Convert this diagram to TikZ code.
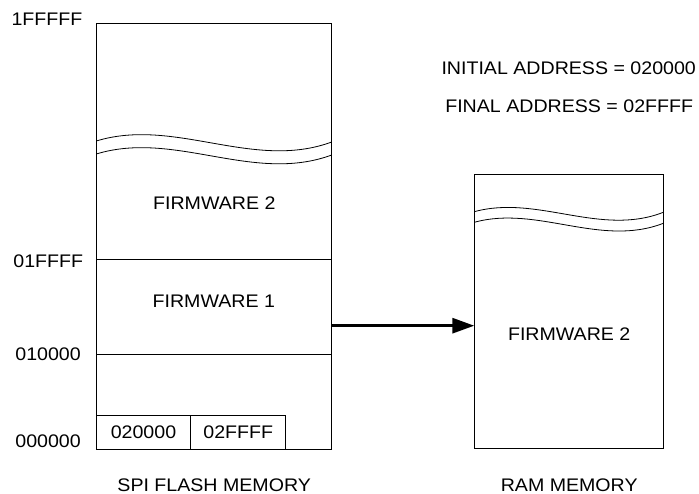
\documentclass[tikz,border=0pt]{standalone}
\usepackage{fontspec}
\setmainfont{Liberation Sans}[FakeStretch=1.077]
\usetikzlibrary{arrows.meta}
\tikzset{mem/.style={draw, line width=0.8pt, inner sep=0pt, outer sep=0pt},
  lbl/.style={inner sep=0pt, font=\fontsize{18.2}{22}\selectfont},
  cut/.style={line width=0.8pt},
  push/.style={-{Triangle[length=22pt, width=15pt]}, line width=3pt}}

\begin{document}
\begin{tikzpicture}[x=1pt, y=-1pt]
  \useasboundingbox (0,0) rectangle (699,494);
  % memories
  \node[mem, minimum width=235.4pt, minimum height=426pt] (flash) at (214,236) {};
  \node[mem, minimum width=189pt, minimum height=274pt] (ram) at (568.8,311.3) {};
  \node[mem, lbl, minimum width=94.4pt, minimum height=34pt] (c1) at (143.5,432) {020000};
  \node[mem, lbl, minimum width=95pt, minimum height=34pt] (c2) at (238.2,432) {02FFFF};
  % region borders
  \draw[cut] (96.3,259.3) -- (331.7,259.3);
  \draw[cut] (96.3,354.3) -- (331.7,354.3);
  % breaks
  \draw[cut] (96.3,141) .. controls (174.8,117) and (253.2,171) .. (331.7,142);
  \draw[cut] (96.3,154) .. controls (174.8,130) and (253.2,184) .. (331.7,155);
  \draw[cut] (474.3,211.7) .. controls (537.3,194.4) and (600.3,237) .. (663.3,212.3);
  \draw[cut] (474.3,222.3) .. controls (537.3,205) and (600.3,247.7) .. (663.3,223.3);
  % addresses
  \node[lbl, anchor=east] (a4) at (82.5,19.5) {1FFFFF};
  \node[lbl, anchor=east] (a3) at (83.3,261.7) {01FFFF};
  \node[lbl, anchor=east] (a2) at (81,354) {010000};
  \node[lbl, anchor=east] (a1) at (81,441.5) {000000};
  % contents
  \node[lbl] (fw2) at (214.3,202.7) {FIRMWARE 2};
  \node[lbl] (fw1) at (213.8,301) {FIRMWARE 1};
  \node[lbl] (fwram) at (569.2,334.5) {FIRMWARE 2};
  \node[lbl] (init) at (568.7,68.3) {INITIAL ADDRESS = 020000};
  \node[lbl] (fin) at (569.2,106.7) {FINAL ADDRESS = 02FFFF};
  \node[lbl] (spi) at (214.2,485.4) {SPI FLASH MEMORY};
  \node[lbl] (rammem) at (569.2,485.2) {RAM MEMORY};
  % copy
  \coordinate (out) at (331.7,325.7);
  \draw[push] (out) -- (out -| ram.west);
\end{tikzpicture}
\end{document}
